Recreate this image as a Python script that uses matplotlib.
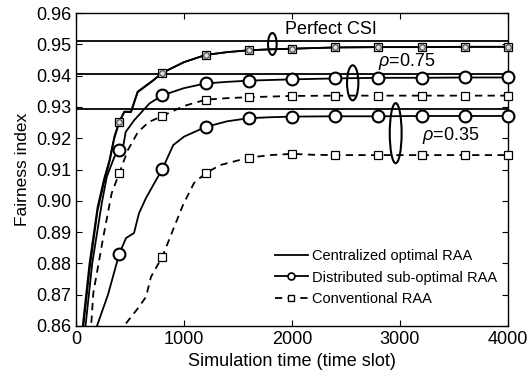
import numpy as np
import matplotlib
matplotlib.use("Agg")
import matplotlib.pyplot as plt
from matplotlib.patches import Ellipse

plt.rcParams["font.family"] = "Liberation Sans"
plt.rcParams["mathtext.fontset"] = "custom"
plt.rcParams["mathtext.rm"] = "Liberation Sans"
plt.rcParams["mathtext.it"] = "Liberation Sans:italic"

# centralized optimal (constant levels)
opt_levels = [0.951, 0.9405, 0.9292]

# perfect CSI
perf_x = [40, 62, 125, 200, 260, 310, 355, 400, 447, 509, 571, 710, 800, 1000, 1200,
          1400, 1600, 1800, 2000, 2400, 2800, 3200, 3600, 4000]
perf_dist_y = [0.853, 0.86, 0.88, 0.898, 0.907, 0.913, 0.9205, 0.9252, 0.9285, 0.9285,
               0.9349, 0.9384, 0.9409, 0.9443, 0.9466, 0.9475, 0.9481, 0.9484, 0.9486,
               0.9490, 0.9491, 0.9491, 0.9492, 0.9492]
perf_conv_y = [0.851, 0.858, 0.878, 0.897, 0.906, 0.9125, 0.920, 0.9251, 0.9284, 0.9283,
               0.9347, 0.9383, 0.9409, 0.9443, 0.9466, 0.9475, 0.9481, 0.9484, 0.9486,
               0.9490, 0.9491, 0.9491, 0.9492, 0.9492]

# rho = 0.75
r75_dist_x = [60, 88, 150, 240, 285, 355, 400, 440, 460, 540, 680, 800, 1000, 1200, 1400,
              1600, 1800, 2000, 2400, 2800, 3200, 3600, 4000]
r75_dist_y = [0.853, 0.86, 0.88, 0.8995, 0.9077, 0.914, 0.9163, 0.918, 0.922, 0.9258,
              0.9311, 0.9337, 0.936, 0.9375, 0.938, 0.9384, 0.9386, 0.9388, 0.9391,
              0.9393, 0.9393, 0.9394, 0.9394]
r75_conv_x = [115, 140, 160, 253, 330, 400, 480, 574, 676, 800, 1000, 1200, 1400, 1600,
              1800, 2000, 2400, 2800, 3200, 3600, 4000]
r75_conv_y = [0.853, 0.86, 0.8705, 0.8885, 0.9024, 0.9088, 0.9162, 0.922, 0.9252, 0.9271,
              0.9303, 0.9323, 0.9328, 0.9331, 0.9333, 0.9335, 0.9336, 0.9336, 0.9336,
              0.9336, 0.9336]

# rho = 0.35
r35_dist_x = [170, 194, 296, 400, 463, 537, 583, 648, 741, 800, 900, 1000, 1200, 1400,
              1600, 1800, 2000, 2400, 2800, 3200, 3600, 4000]
r35_dist_y = [0.853, 0.86, 0.870, 0.883, 0.8881, 0.8897, 0.896, 0.9009, 0.9066, 0.9102,
              0.9178, 0.9205, 0.9236, 0.9254, 0.9264, 0.9267, 0.9269, 0.927, 0.927,
              0.9271, 0.9271, 0.9271]
r35_conv_x = [420, 444, 574, 648, 694, 800, 898, 991, 1093, 1200, 1333, 1600, 1800, 2000,
              2200, 2400, 2800, 3200, 3600, 4000]
r35_conv_y = [0.853, 0.86, 0.8657, 0.8693, 0.8757, 0.8822, 0.8907, 0.8987, 0.9057, 0.9088,
              0.9114, 0.9138, 0.9146, 0.915, 0.9147, 0.9146, 0.9146, 0.9146, 0.9146, 0.9146]

labels = ["Centralized optimal RAA", "Distributed sub-optimal RAA", "Conventional RAA"]


def markers_of(x, y):
    x = np.asarray(x)
    y = np.asarray(y)
    m = (x % 400 == 0) & (x >= 400) & (y >= 0.86)
    return x[m], y[m]


fig = plt.figure(figsize=(5.29, 3.76), dpi=100)
ax = fig.add_axes([0.1437, 0.133, 0.8166, 0.8324])

dash = (0, (4, 3))
lw = 1.3

for lvl in opt_levels:
    ax.axhline(lvl, color="black", lw=lw)

# curves
ax.plot(perf_x, perf_dist_y, color="black", lw=lw)
ax.plot(perf_x, perf_conv_y, color="black", lw=lw)
ax.plot(r75_dist_x, r75_dist_y, color="black", lw=lw)
ax.plot(r75_conv_x, r75_conv_y, color="black", lw=lw, ls=dash)
ax.plot(r35_dist_x, r35_dist_y, color="black", lw=lw)
ax.plot(r35_conv_x, r35_conv_y, color="black", lw=lw, ls=dash)

# markers
for xs, ys in [(r75_dist_x, r75_dist_y), (r35_dist_x, r35_dist_y)]:
    mx, my = markers_of(xs, ys)
    ax.plot(mx, my, ls="none", marker="o", ms=8.5, mfc="white", mec="black", mew=1.5,
            clip_on=False, zorder=5)
for xs, ys in [(r75_conv_x, r75_conv_y), (r35_conv_x, r35_conv_y)]:
    mx, my = markers_of(xs, ys)
    ax.plot(mx, my, ls="none", marker="s", ms=6, mfc="white", mec="black", mew=0.9,
            clip_on=False, zorder=5)
mx, my = markers_of(perf_x, perf_conv_y)
ax.plot(mx, my, ls="none", marker="s", ms=6, mfc="#dddddd", mec="black", mew=0.9,
        clip_on=False, zorder=5)
ax.plot(mx, my, ls="none", marker="o", ms=4, mfc="none", mec="#444444", mew=0.8,
        clip_on=False, zorder=6)

# ellipses and annotations
for (cx, cy, w, h) in [(1818, 0.9501, 80, 0.0070), (2562, 0.9377, 105, 0.0112),
                       (2960, 0.9216, 110, 0.0192)]:
    ax.add_patch(Ellipse((cx, cy), w, h, fill=False, ec="black", lw=1.5, zorder=7))
ax.text(1935, 0.9546, "Perfect CSI", fontsize=13, va="center", ha="left")
ax.text(2800, 0.9444, r"$\rho$=0.75", fontsize=13, va="center", ha="left")
ax.text(3201, 0.9210, r"$\rho$=0.35", fontsize=13, va="center", ha="left")

# legend
h1, = ax.plot([], [], color="black", lw=lw)
h2, = ax.plot([], [], color="black", lw=lw, marker="o", ms=5, mfc="white", mew=1.2)
h3, = ax.plot([], [], color="black", lw=lw, ls=dash, marker="s", ms=4, mfc="white", mew=1.0)
ax.legend([h1, h2, h3], labels, loc="upper left", bbox_to_anchor=(0.46, 0.245),
          frameon=False, fontsize=10.5, borderpad=0, borderaxespad=0,
          handlelength=2.3, handletextpad=0.25, labelspacing=0.5)

ax.set_xlim(0, 4000)
ax.set_ylim(0.86, 0.96)
ax.set_xticks([0, 1000, 2000, 3000, 4000])
ax.set_yticks(np.round(np.arange(0.86, 0.9601, 0.01), 2))
ax.set_yticklabels([f"{v:.2f}" for v in np.arange(0.86, 0.9601, 0.01)])
ax.tick_params(direction="in", top=True, right=True, labelsize=13, length=4, width=0.8)
ax.set_xlabel("Simulation time (time slot)", fontsize=13, labelpad=4)
ax.set_ylabel("Fairness index", fontsize=12.5, labelpad=4)
for s in ax.spines.values():
    s.set_linewidth(1.0)

fig.savefig("out.png", dpi=100)
